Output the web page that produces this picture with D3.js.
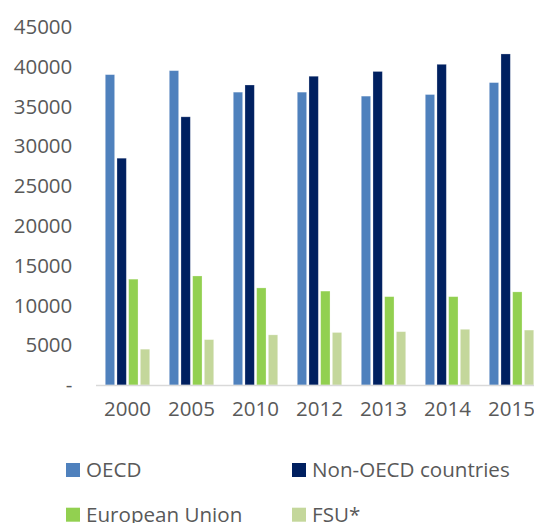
<!DOCTYPE html>
<html>
<head>
<meta charset="utf-8">
<script src="https://cdn.jsdelivr.net/npm/d3@7"></script>
<style>
  body { margin: 0; background: #fff; }
  svg { display: block; }
</style>
</head>
<body>
<div id="chart"></div>
<script>
// data
const years = ["2000", "2005", "2010", "2012", "2013", "2014", "2015"];
const seriesNames = ["OECD", "Non-OECD countries", "European Union", "FSU*"];
const oecd = [39000, 39500, 36800, 36800, 36300, 36500, 38000];
const nonOecd = [28500, 33700, 37700, 38800, 39400, 40300, 41600];
const eu = [13300, 13700, 12200, 11800, 11100, 11100, 11700];
const fsu = [4500, 5700, 6300, 6600, 6700, 7000, 6900];
const yTicks = [0, 5000, 10000, 15000, 20000, 25000, 30000, 35000, 40000, 45000];
const colors = ["#4f81bd", "#002060", "#92d050", "#c4d79b"];

const allSeries = [oecd, nonOecd, eu, fsu];

let width = 534;
let height = 523;
let margin = { top: 27, bottom: 138, left: 95.5, right: -9.5 };

let svg = d3.select('#chart')
    .append('svg')
    .attr('width', width)
    .attr('height', height);

const x0 = d3.scaleBand()
    .domain(years)
    .range([margin.left, width - margin.right])
    .padding(0);

const x1 = d3.scaleBand()
    .domain(seriesNames)
    .range([x0.bandwidth() * 0.153, x0.bandwidth() * 0.847])
    .paddingInner(0.2);

const y = d3.scaleLinear()
    .domain([0, 45000])
    .range([height - margin.bottom, margin.top - 0.1]);

const color = d3.scaleOrdinal()
    .domain(seriesNames)
    .range(colors);

const font = "'Open Sans', sans-serif";
const textColor = "#595959";

// y labels, no axis line
svg.append('g')
    .selectAll('text')
    .data(yTicks)
    .enter()
    .append('text')
    .attr('x', 72.3)
    .attr('y', d => y(d))
    .attr('dy', '0.35em')
    .attr('text-anchor', 'end')
    .style('font-family', font)
    .style('font-size', '20.5px')
    .attr('fill', textColor)
    .text(d => d === 0 ? '-' : d);

// bars
const rows = [];
years.forEach((yr, i) => {
    seriesNames.forEach((s, j) => {
        rows.push({ year: yr, series: s, value: allSeries[j][i] });
    });
});

svg.append('g')
    .selectAll('rect')
    .data(rows)
    .enter()
    .append('rect')
    .attr('x', d => x0(d.year) + x1(d.series))
    .attr('y', d => y(d.value))
    .attr('width', x1.bandwidth())
    .attr('height', d => y(0) - y(d.value))
    .attr('fill', d => color(d.series))
    .attr('stroke', '#fff')
    .attr('stroke-opacity', 0.35)
    .attr('stroke-width', 0.75);

// x axis
const xAxis = svg.append('g')
    .attr('transform', `translate(0, ${y(0)})`)
    .call(d3.axisBottom(x0).tickSize(0).tickPadding(16));
xAxis.select('.domain').attr('stroke', '#d9d9d9').attr('stroke-width', 1.5);
xAxis.selectAll('text')
    .style('font-family', font)
    .style('font-size', '20.5px')
    .attr('fill', textColor);

// legend (second row is cut by the bottom edge, as in the original)
const legendPos = [
    { x: 66, y: 470 },
    { x: 292, y: 470 },
    { x: 66, y: 514.7 },
    { x: 292, y: 514.7 }
];
const legend = svg.append('g');
seriesNames.forEach((s, i) => {
    legend.append('rect')
        .attr('x', legendPos[i].x)
        .attr('y', legendPos[i].y - 7)
        .attr('width', 14)
        .attr('height', 14)
        .attr('fill', color(s));
    legend.append('text')
        .attr('x', legendPos[i].x + 20)
        .attr('y', legendPos[i].y)
        .attr('dy', '0.35em')
        .style('font-family', font)
        .style('font-size', '20.6px')
        .attr('fill', textColor)
        .text(s);
});
</script>
</body>
</html>
